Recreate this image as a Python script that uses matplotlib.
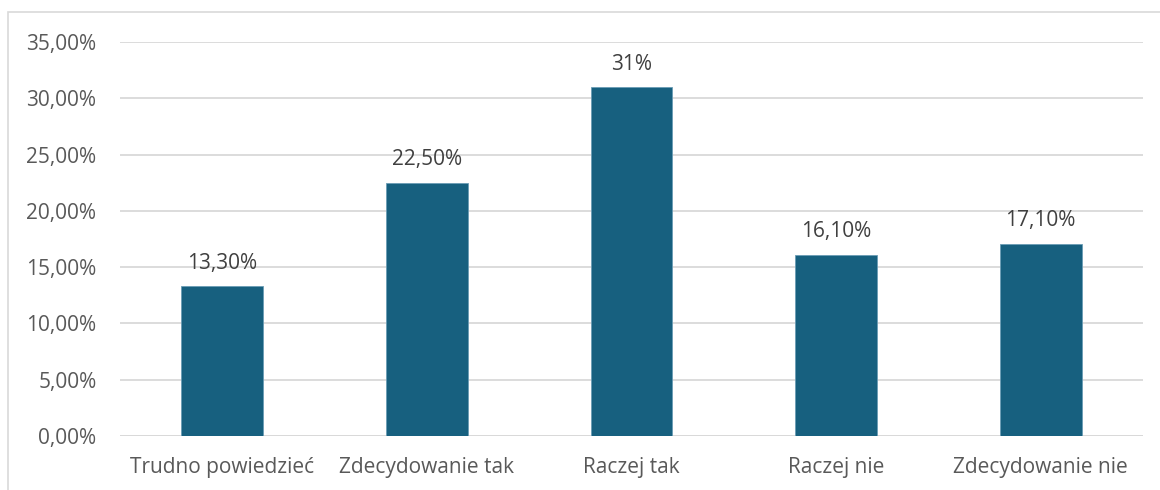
import matplotlib
matplotlib.use("Agg")
import matplotlib.pyplot as plt
from matplotlib.patches import Rectangle

categories = ["Trudno powiedzieć", "Zdecydowanie tak", "Raczej tak", "Raczej nie", "Zdecydowanie nie"]
values = [13.3, 22.5, 31.0, 16.1, 17.1]
value_labels = ["13,30%", "22,50%", "31%", "16,10%", "17,10%"]
yticks = [0, 5, 10, 15, 20, 25, 30, 35]
ytick_labels = ["0,00%", "5,00%", "10,00%", "15,00%", "20,00%", "25,00%", "30,00%", "35,00%"]

plt.rcParams['font.family'] = ['Open Sans', 'DejaVu Sans']
text_color = "#595959"
bar_color = "#17607f"
grid_color = "#d9d9d9"

fig = plt.figure(figsize=(11.6, 4.9), dpi=100)
fig.patches.append(Rectangle((8/1160, -0.1), 1.2, 1 - 12/490 + 0.1, transform=fig.transFigure,
                             fill=False, edgecolor="#d9d9d9", linewidth=1.2))
ax = fig.add_axes([120/1160, 1 - 436/490, (1143 - 120)/1160, (436 - 42)/490])

x = list(range(len(categories)))
ax.bar(x, values, width=0.40, color=bar_color, edgecolor="#6a9cb5", linewidth=0.6, zorder=3)
for xi, v, lab in zip(x, values, value_labels):
    ax.annotate(lab, (xi, v), xytext=(0, 9), textcoords="offset points",
                ha="center", va="bottom", fontsize=15, color="#404040")

ax.set_xlim(-0.5, len(categories) - 0.5)
ax.set_ylim(0, 35)
ax.set_yticks(yticks)
ax.set_yticklabels(ytick_labels)
ax.set_xticks(x)
ax.set_xticklabels(categories)
ax.tick_params(axis='y', length=0, pad=17, labelsize=15, labelcolor=text_color)
ax.tick_params(axis='x', length=0, pad=15, labelsize=15, labelcolor=text_color)
ax.yaxis.grid(True, color=grid_color, linewidth=1.3, zorder=0)
for s in ax.spines.values():
    s.set_visible(False)
ax.axhline(0, color=grid_color, linewidth=1.3, zorder=2)

fig.savefig("out.png", dpi=100)
